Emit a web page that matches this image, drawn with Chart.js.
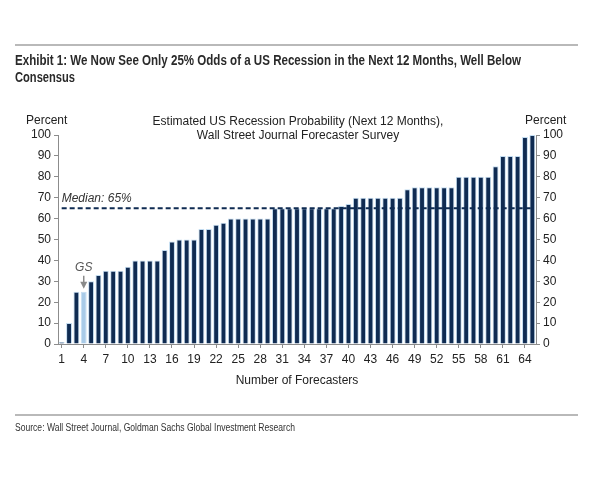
<!DOCTYPE html>
<html>
<head>
<meta charset="utf-8">
<script src="https://cdn.jsdelivr.net/npm/chart.js@4.4.0/dist/chart.umd.min.js"></script>
<style>
    body { margin: 0; width: 600px; height: 480px; background: #fff; position: relative; overflow: hidden;
           font-family: "Liberation Sans", Arial, sans-serif; color: #222; }
    #chart { position: absolute; left: 0; top: 0; }
    .rule { position: absolute; left: 15px; width: 563px; height: 2px; background: #b9b9b9; }
    .fit { display: inline-block; transform-origin: 0 50%; white-space: nowrap; }
    #exhibit { position: absolute; left: 15px; top: 52px; font-weight: bold; font-size: 14px; line-height: 17px; color: #2a2a2a; }
    #source { position: absolute; left: 15px; top: 421px; font-size: 10px; line-height: 13px; color: #333; }
    .lbl { position: absolute; font-size: 12px; line-height: 14px; color: #222; white-space: nowrap; }
</style>
</head>
<body>
<canvas id="chart" width="600" height="480"></canvas>

<div class="rule" style="top:44px"></div>
<div id="exhibit">
    <span class="fit" data-w="506">Exhibit 1: We Now See Only 25% Odds of a US Recession in the Next 12 Months, Well Below</span><br>
    <span class="fit" data-w="60">Consensus</span>
</div>

<div class="lbl" style="left:26px; top:113px">Percent</div>
<div class="lbl" style="left:525px; top:113px">Percent</div>
<div class="lbl" style="left:148px; top:114px; width:300px; text-align:center">Estimated US Recession Probability (Next 12 Months),<br>Wall Street Journal Forecaster Survey</div>

<div class="rule" style="top:414px"></div>
<div id="source"><span class="fit" data-w="280">Source: Wall Street Journal, Goldman Sachs Global Investment Research</span></div>

<script>
    // Squeeze the condensed header / source lines to the widths they have in the exhibit
    document.querySelectorAll(".fit").forEach(function (el) {
        var w = el.getBoundingClientRect().width;
        el.style.transform = "scaleX(" + (el.getAttribute("data-w") / w) + ")";
    });

    // Data
    var forecasters = [1, 2, 3, 4, 5, 6, 7, 8, 9, 10, 11, 12, 13, 14, 15, 16, 17, 18, 19, 20,
        21, 22, 23, 24, 25, 26, 27, 28, 29, 30, 31, 32, 33, 34, 35, 36, 37, 38, 39, 40,
        41, 42, 43, 44, 45, 46, 47, 48, 49, 50, 51, 52, 53, 54, 55, 56, 57, 58, 59, 60,
        61, 62, 63, 64, 65];
    var probability = [1, 10, 25, 25, 30, 33, 35, 35, 35, 37, 40, 40, 40, 40, 45, 49, 50, 50, 50, 55,
        55, 57, 58, 60, 60, 60, 60, 60, 60, 65, 65, 65, 65, 65, 65, 65, 65, 65, 66, 67,
        70, 70, 70, 70, 70, 70, 70, 74, 75, 75, 75, 75, 75, 75, 80, 80, 80, 80, 80, 85,
        90, 90, 90, 99, 100];
    var median = 65;
    var gsIndex = 3;   // Goldman Sachs is forecaster no. 4
    var yTicks = [0, 10, 20, 30, 40, 50, 60, 70, 80, 90, 100];

    var navy = "#0f2b52";
    var gsBlue = "#a9cbe8";
    var axisGrey = "#8c8c8c";

    var barColors = probability.map(function (v, i) {
        return i === gsIndex ? gsBlue : navy;
    });

    // Median line, GS arrow
    var annotations = {
        id: "annotations",
        afterDatasetsDraw: function (chart) {
            var ctx = chart.ctx;
            var x = chart.scales.x;
            var y = chart.scales.y;

            var yMed = y.getPixelForValue(median);
            var x0 = x.getPixelForValue(0);
            var x1 = x.getPixelForValue(forecasters.length - 1);
            ctx.save();
            ctx.strokeStyle = navy;
            ctx.lineWidth = 2;
            ctx.setLineDash([5, 3]);
            ctx.beginPath();
            ctx.moveTo(x0, yMed);
            ctx.lineTo(x1, yMed);
            ctx.stroke();
            ctx.setLineDash([]);

            ctx.font = 'italic 12px "Liberation Sans", Arial, sans-serif';
            ctx.fillStyle = "#333";
            ctx.textBaseline = "bottom";
            ctx.textAlign = "left";
            ctx.fillText("Median: " + median + "%", x0, yMed - 3);

            var gx = x.getPixelForValue(gsIndex);
            var gy = y.getPixelForValue(probability[gsIndex]);
            ctx.fillStyle = "#555";
            ctx.textAlign = "center";
            ctx.fillText("GS", gx, gy - 18);
            ctx.strokeStyle = "#8a8a8a";
            ctx.lineWidth = 1.5;
            ctx.beginPath();
            ctx.moveTo(gx, gy - 16);
            ctx.lineTo(gx, gy - 9);
            ctx.stroke();
            ctx.fillStyle = "#8a8a8a";
            ctx.beginPath();
            ctx.moveTo(gx - 3.5, gy - 10);
            ctx.lineTo(gx + 3.5, gy - 10);
            ctx.lineTo(gx, gy - 3);
            ctx.closePath();
            ctx.fill();
            ctx.restore();
        }
    };

    var tickFont = { family: '"Liberation Sans", Arial, sans-serif', size: 12 };

    var yAxis = function (position, width) {
        return {
            position: position,
            min: 0,
            max: 100,
            afterBuildTicks: function (scale) {
                scale.ticks = yTicks.map(function (v) { return { value: v }; });
            },
            afterFit: function (scale) { scale.width = width; },
            border: { display: true, color: axisGrey, width: 1 },
            grid: { drawOnChartArea: false, drawTicks: true, tickLength: 4, color: axisGrey },
            ticks: { color: "#222", font: tickFont, padding: 3 }
        };
    };

    new Chart(document.getElementById("chart"), {
        type: "bar",
        data: {
            labels: forecasters,
            datasets: [{
                data: probability,
                backgroundColor: barColors,
                borderColor: "#c3dcf0",
                borderWidth: 1,
                categoryPercentage: 1,
                barPercentage: 0.8,
                yAxisID: "y"
            }]
        },
        options: {
            responsive: false,
            animation: false,
            layout: { padding: { top: 135, bottom: 92, left: 0, right: 0 } },
            plugins: { legend: { display: false }, tooltip: { enabled: false } },
            scales: {
                x: {
                    afterFit: function (scale) { scale.height = 44; },
                    border: { display: true, color: axisGrey, width: 1 },
                    grid: {
                        offset: false,
                        drawOnChartArea: false,
                        tickLength: 4,
                        color: function (c) { return c.index % 3 === 0 ? axisGrey : "rgba(0,0,0,0)"; }
                    },
                    ticks: {
                        autoSkip: false,
                        maxRotation: 0,
                        color: "#222",
                        font: tickFont,
                        padding: 4,
                        callback: function (v, i) { return i % 3 === 0 ? forecasters[i] : ""; }
                    },
                    title: {
                        display: true,
                        text: "Number of Forecasters",
                        color: "#222",
                        font: tickFont,
                        padding: { top: 4, bottom: 0 }
                    }
                },
                y: yAxis("left", 58),
                y2: yAxis("right", 64)
            }
        },
        plugins: [annotations]
    });
</script>
</body>
</html>
